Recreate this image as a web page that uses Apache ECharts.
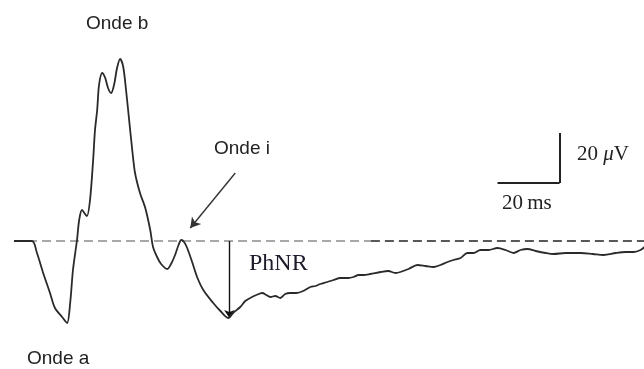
<!DOCTYPE html>
<html>
<head>
<meta charset="utf-8">
<script src="https://cdn.jsdelivr.net/npm/echarts@6/dist/echarts.min.js"></script>
<style>
html,body{margin:0;padding:0;background:#fff;}
#chart{width:644px;height:369px;}
</style>
</head>
<body>
<div id="chart"></div>
<script>
// Time (ms) and amplitude (µV) of the ERG trace
var times = [0, 5.8, 7.4, 9.4, 11.6, 13.2, 15.5, 17.1, 18.1, 19.0, 20.3, 21.0, 21.9, 22.9, 23.5, 24.5, 25.5, 26.1, 26.8, 27.4, 28.4, 29.4, 30.3, 31.3, 32.3, 33.2, 34.2, 35.2, 36.1, 37.1, 38.1, 39.0, 40.6, 42.3, 43.9, 44.8, 46.1, 47.4, 49.4, 50.6, 51.9, 52.9, 53.9, 54.8, 55.8, 57.4, 59.0, 61.0, 64.2, 66.5, 69.0, 70.6, 72.9, 74.5, 76.1, 78.1, 80.0, 81.3, 82.6, 84.2, 85.8, 87.4, 89.0, 91.0, 93.2, 95.5, 97.1, 98.7, 101.0, 102.9, 105.2, 107.7, 109.4, 111.0, 112.6, 114.8, 118.1, 120.6, 122.9, 124.5, 127.1, 130.0, 132.6, 135.2, 137.4, 139.7, 141.6, 143.9, 146.1, 148.1, 150.3, 152.9, 155.8, 158.4, 161.0, 163.2, 165.5, 168.1, 171.3, 173.9, 177.7, 182.6, 186.5, 190.0, 193.9, 197.1, 199.7, 201.9, 203.2];
var volts = [0, 0, -4.8, -12.8, -20.8, -26.8, -30.4, -32.8, -24.8, -11.6, 0.4, 8.4, 12.4, 10.8, 10, 16.4, 32.4, 44.4, 52.4, 62.4, 67.2, 65.2, 61.2, 59.2, 62.8, 69.2, 72.8, 69.6, 60.4, 48.4, 36.4, 27.2, 19.2, 13.2, 4.4, -2.4, -6.4, -9.2, -11.2, -9.2, -5.6, -2, 0.4, -0.4, -2.8, -8.4, -14.4, -19.6, -24.8, -28, -30.8, -28.8, -26.4, -24, -22.8, -21.6, -20.8, -21.6, -22.4, -22, -22.8, -21.2, -20.8, -20.8, -20, -18.4, -18, -17.2, -16.4, -15.6, -14.8, -14.8, -14.4, -13.6, -13.6, -13.2, -12.4, -12, -12.8, -12.4, -11.2, -9.6, -10, -10.4, -9.6, -8.4, -7.6, -6.8, -4.8, -4.8, -3.6, -3.6, -2.8, -3.6, -4.8, -3.6, -3.2, -4, -4.8, -5.2, -4.8, -4.8, -5.2, -5.6, -4.8, -4.4, -4.4, -3.6, -2.4];

// Annotation anchors (data units)
var phnrTime = 69.4;        // PhNR measurement time (ms)
var phnrTrough = -30.8;     // PhNR trough (µV)
var ondeIArrowFrom = [71.3, 27.2];
var ondeIArrowTo = [56.8, 5.2];
var scaleOrigin = [175.8, 23.2]; // corner of scale bar
var scaleMs = 20, scaleUv = 20;

var labels = {b: 'Onde b', i: 'Onde i', a: 'Onde a', phnr: 'PhNR', uv: '20 \u03bcV', ms: '20ms'};

var chart = echarts.init(document.getElementById('chart'), null, {renderer: 'canvas'});
var trace = times.map(function (t, k) { return [t, volts[k]]; });

var sans = '"Liberation Sans", Arial, sans-serif';
var serif = '"Liberation Serif", "Times New Roman", serif';

chart.setOption({
  animation: false,
  backgroundColor: '#ffffff',
  grid: {left: 14, right: 0, top: 1, bottom: 3},
  xAxis: {type: 'value', min: 0, max: 203, show: false},
  yAxis: {type: 'value', min: -50, max: 96, show: false},
  series: [{
    type: 'line',
    data: trace,
    showSymbol: false,
    smooth: 0.3,
    lineStyle: {color: '#2a2a2a', width: 1.8},
    z: 5,
    markLine: {
      silent: true,
      symbol: ['none', 'none'],
      label: {show: false},
      data: [
        [{coord: [0, 0], lineStyle: {color: '#8c8c8c', width: 1.6, type: [9, 5]}}, {coord: [115, 0]}],
        [{coord: [115, 0], lineStyle: {color: '#222', width: 1.6, type: [9, 5]}}, {coord: [203, 0]}],
        [{coord: [phnrTime, 0], symbol: 'none', lineStyle: {color: '#111', width: 1.4, type: 'solid'}},
         {coord: [phnrTime, phnrTrough], symbol: 'arrow', symbolSize: [8, 8]}],
        [{coord: ondeIArrowFrom, symbol: 'none', lineStyle: {color: '#333', width: 1.4, type: 'solid'}},
         {coord: ondeIArrowTo, symbol: 'arrow', symbolSize: [9, 10]}],
        [{coord: [scaleOrigin[0], scaleOrigin[1] + scaleUv], lineStyle: {color: '#222', width: 2, type: 'solid'}},
         {coord: scaleOrigin}],
        [{coord: [scaleOrigin[0] - scaleMs, scaleOrigin[1]], lineStyle: {color: '#222', width: 2, type: 'solid'}},
         {coord: scaleOrigin}]
      ]
    }
  }],
  graphic: [
    {type: 'text', left: 86, top: 14, style: {text: labels.b, font: '19px ' + sans, fill: '#222'}},
    {type: 'text', left: 214, top: 139, style: {text: labels.i, font: '19px ' + sans, fill: '#222'}},
    {type: 'text', left: 27, top: 349, style: {text: labels.a, font: '19px ' + sans, fill: '#222'}},
    {type: 'text', left: 249, top: 252, style: {text: labels.phnr, font: '24px ' + serif, fill: '#1c1c2a'}},
    {type: 'text', left: 577, top: 144, style: {rich: {n: {font: '21px ' + serif, fill: '#222'}, m: {font: 'italic 21px ' + serif, fill: '#222'}}, text: '{n|20 }{m|\u03bc}{n|V}'}},
    {type: 'text', left: 502, top: 193, style: {rich: {n: {font: '21px ' + serif, fill: '#222'}, s: {font: '21px ' + serif, fill: '#222'}}, text: '{n|20}{s|\u2009ms}'}}
  ]
});
</script>
</body>
</html>
